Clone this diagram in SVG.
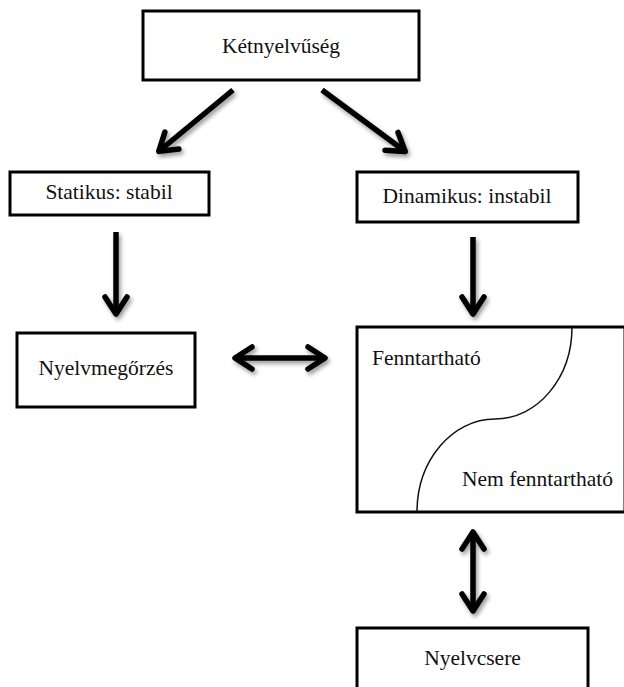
<svg xmlns="http://www.w3.org/2000/svg" width="624" height="687" viewBox="0 0 624 687">
  <style>
    .box { fill: #ffffff; stroke: #000000; stroke-width: 3; }
    .lbl { font-family: "Liberation Serif", "Times New Roman", serif; font-size: 21.5px; fill: #111111; }
    .mid { text-anchor: middle; }
    .arrow { stroke: #000000; stroke-width: 5.5; fill: none; filter: url(#shadow); }
    .curve { stroke: #111111; stroke-width: 1.5; fill: none; }
  </style>
  <defs>
    <filter id="shadow" filterUnits="userSpaceOnUse" x="0" y="0" width="624" height="687">
      <feDropShadow dx="2" dy="3" stdDeviation="2" flood-color="#000000" flood-opacity="0.4"/>
    </filter>
    <marker id="head" viewBox="-26 -16 30 32" markerWidth="30" markerHeight="32" refX="0" refY="0" markerUnits="userSpaceOnUse" orient="auto-start-reverse">
      <path d="M -18 -11 L -1 0 L -18 11" fill="none" stroke="#000000" stroke-width="5.5" stroke-linecap="round" stroke-linejoin="round"/>
    </marker>
  </defs>

  <rect width="624" height="687" fill="#ffffff"/>

  <g id="connectors">
    <path class="arrow" d="M 233 90 L 158 152" marker-end="url(#head)"/>
    <path class="arrow" d="M 322 90 L 406 152" marker-end="url(#head)"/>
    <path class="arrow" d="M 116 232 L 116 315" marker-end="url(#head)"/>
    <path class="arrow" d="M 473 237 L 473 315" marker-end="url(#head)"/>
    <path class="arrow" d="M 234 358 L 326 358" marker-start="url(#head)" marker-end="url(#head)"/>
    <path class="arrow" d="M 473 531 L 473 612" marker-start="url(#head)" marker-end="url(#head)"/>
  </g>

  <g id="ketnyelvuseg">
    <rect class="box" x="143" y="11" width="276" height="69"/>
    <text class="lbl mid" x="281" y="53">Kétnyelvűség</text>
  </g>

  <g id="statikus">
    <rect class="box" x="10" y="172" width="199" height="43"/>
    <text class="lbl mid" x="109" y="199">Statikus: stabil</text>
  </g>

  <g id="dinamikus">
    <rect class="box" x="357" y="172" width="221" height="50"/>
    <text class="lbl mid" x="467" y="203">Dinamikus: instabil</text>
  </g>

  <g id="nyelvmegorzes">
    <rect class="box" x="17" y="333" width="178" height="74"/>
    <text class="lbl mid" x="106" y="375">Nyelvmegőrzés</text>
  </g>

  <g id="fenntarthato">
    <rect class="box" x="357" y="327" width="268" height="185"/>
    <path class="curve" d="M 572 327 C 572 378 537.5 419 495 419 C 452 419 417 460.7 417 512"/>
    <text class="lbl" x="372" y="365">Fenntartható</text>
    <text class="lbl" x="462" y="486">Nem fenntartható</text>
  </g>

  <g id="nyelvcsere">
    <rect class="box" x="357" y="628" width="231" height="70"/>
    <text class="lbl mid" x="472.5" y="665">Nyelvcsere</text>
  </g>
</svg>
